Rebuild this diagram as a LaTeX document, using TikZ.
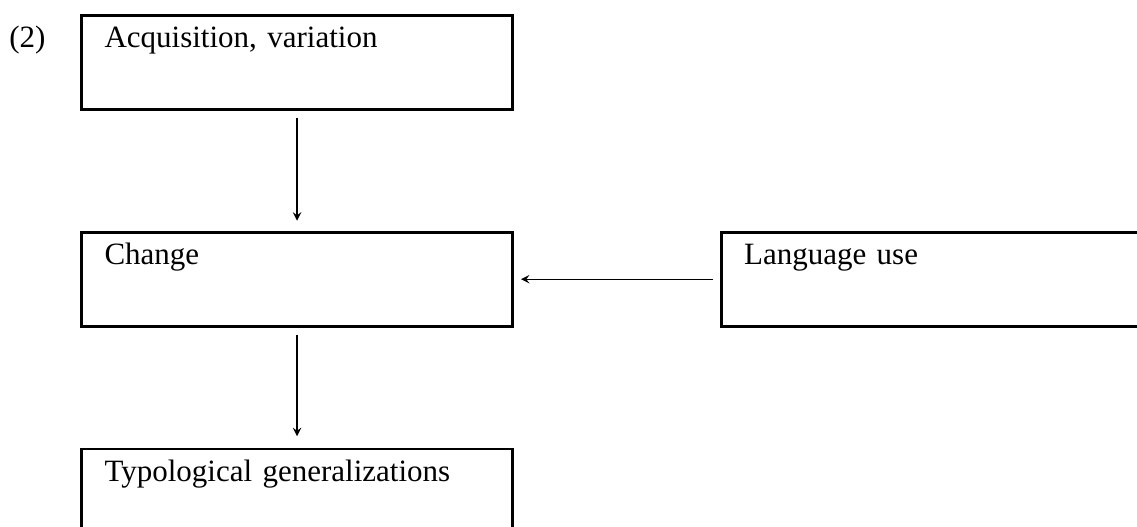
\documentclass[tikz,border=0pt]{standalone}
\usepackage{fontspec}
\setmainfont{Liberation Serif}
\usetikzlibrary{positioning,arrows}

\begin{document}
\begin{tikzpicture}[node distance=46.4pt and 79.6pt,
box/.style={draw,line width=1.1pt,text width=149pt,inner xsep=8.9pt,inner ysep=0pt,text height=12.4pt,text depth=24pt,align=left,font=\fontsize{12pt}{14pt}\selectfont},
link/.style={->,>=stealth,line width=0.45pt,shorten <=2.7pt}]

\useasboundingbox (-31pt,5.4pt) rectangle (409pt,-198.5pt);

\node [box,anchor=north west] (acq) at (0,0) {Acquisition, variation};
\node [box,below=of acq] (chg) {Change};
\node [box,below=of chg] (typ) {Typological generalizations};
\node [box,right=of chg] (use) {Language use};
\node [anchor=base east,inner sep=0pt,font=\fontsize{12pt}{14pt}\selectfont] (exnum) at ([xshift=-13.2pt]acq.base west) {(2)};

\draw [link,shorten >=3.9pt] (acq) -- (chg);
\draw [link,shorten >=4.4pt] (chg) -- (typ);
\draw [link,shorten >=2.7pt] (use) -- (chg);
\end{tikzpicture}
\end{document}
